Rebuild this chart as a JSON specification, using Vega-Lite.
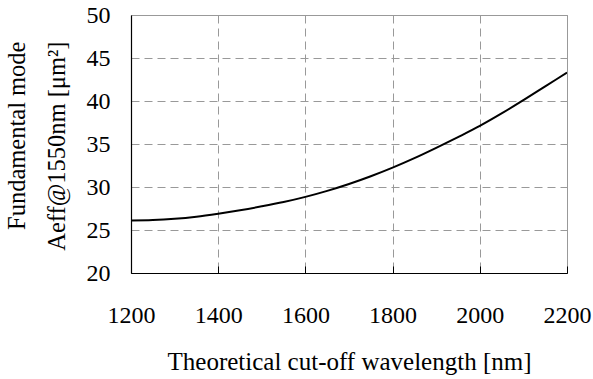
{
  "$schema": "https://vega.github.io/schema/vega-lite/v6.json",
  "width": 436,
  "height": 258,
  "autosize": {"type": "none"},
  "padding": {"left": 131, "top": 15, "right": 26, "bottom": 106},
  "background": "white",
  "config": {
    "font": "Liberation Serif",
    "view": {"stroke": "#999999", "strokeWidth": 1},
    "axis": {
      "labelFont": "Liberation Serif",
      "titleFont": "Liberation Serif",
      "labelFontSize": 24,
      "titleFontSize": 25,
      "labelColor": "black",
      "titleColor": "black",
      "titleFontWeight": "normal",
      "domainColor": "black",
      "domainWidth": 1.2,
      "tickColor": "black",
      "gridColor": "#999999",
      "gridDash": [8, 5],
      "gridWidth": 1,
      "gridOpacity": 1
    }
  },
  "data": {
    "values": [
      {"wavelength": 1200, "aeff": 26.1},
      {"wavelength": 1250, "aeff": 26.15},
      {"wavelength": 1300, "aeff": 26.3},
      {"wavelength": 1350, "aeff": 26.55},
      {"wavelength": 1400, "aeff": 26.9},
      {"wavelength": 1450, "aeff": 27.3},
      {"wavelength": 1500, "aeff": 27.75},
      {"wavelength": 1550, "aeff": 28.25},
      {"wavelength": 1600, "aeff": 28.85},
      {"wavelength": 1650, "aeff": 29.55},
      {"wavelength": 1700, "aeff": 30.35},
      {"wavelength": 1750, "aeff": 31.25},
      {"wavelength": 1800, "aeff": 32.25},
      {"wavelength": 1850, "aeff": 33.35},
      {"wavelength": 1900, "aeff": 34.55},
      {"wavelength": 1950, "aeff": 35.8},
      {"wavelength": 2000, "aeff": 37.1},
      {"wavelength": 2050, "aeff": 38.55},
      {"wavelength": 2100, "aeff": 40.1},
      {"wavelength": 2150, "aeff": 41.7},
      {"wavelength": 2200, "aeff": 43.3}
    ]
  },
  "mark": {"type": "line", "color": "black", "strokeWidth": 2, "interpolate": "monotone", "clip": true},
  "encoding": {
    "x": {
      "field": "wavelength",
      "type": "quantitative",
      "scale": {"domain": [1200, 2200], "nice": false, "zero": false},
      "axis": {
        "values": [1200, 1400, 1600, 1800, 2000, 2200],
        "format": "d",
        "title": "Theoretical cut-off wavelength [nm]",
        "tickSize": -7,
        "labelPadding": 37,
        "titlePadding": 22,
        "labelFlush": false
      }
    },
    "y": {
      "field": "aeff",
      "type": "quantitative",
      "scale": {"domain": [20, 50], "nice": false, "zero": false},
      "axis": {
        "values": [20, 25, 30, 35, 40, 45, 50],
        "format": "d",
        "title": ["Fundamental mode", "Aeff@1550nm [μm²]"],
        "titleFontSize": 24.5,
        "titleLineHeight": 40,
        "titleAlign": "right",
        "titleY": 26,
        "ticks": false,
        "labelPadding": 21,
        "titlePadding": 17,
        "labelFlush": false
      }
    }
  }
}
